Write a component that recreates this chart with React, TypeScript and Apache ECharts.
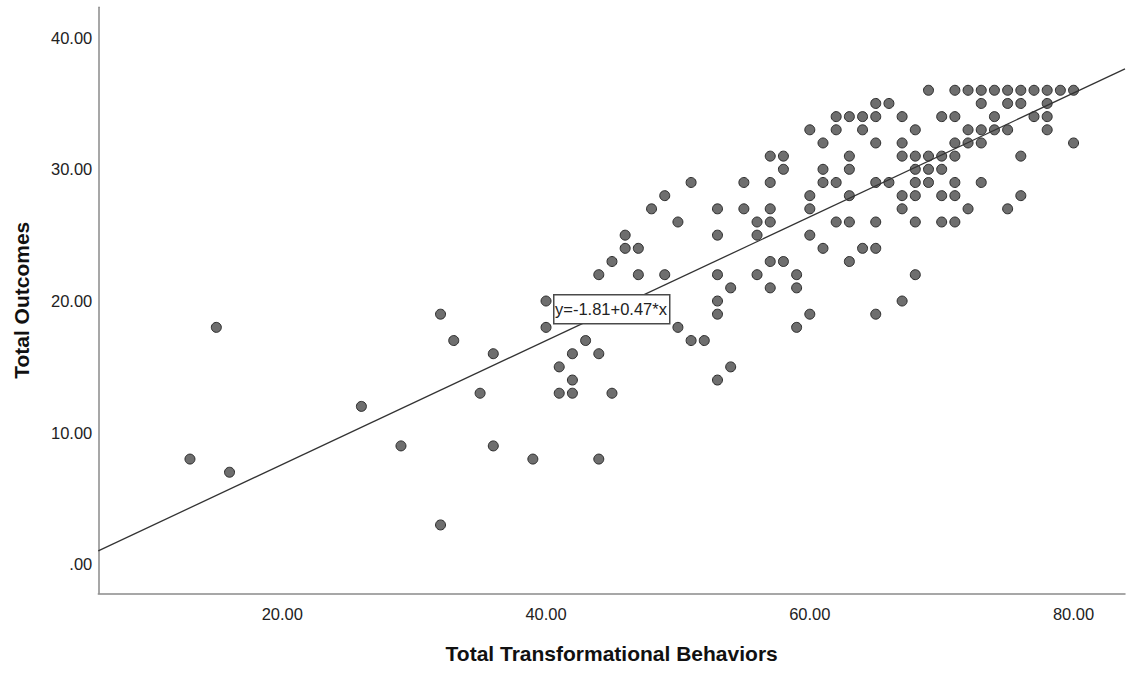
import React, { useEffect, useRef } from "react";
import * as echarts from "echarts";

// Total Outcomes levels (y) and the Total Transformational Behaviors scores (x) observed at each level
const outcomeLevels: number[] = [36, 35, 34, 33, 32, 31, 30, 29, 28, 27, 26, 25, 24, 23, 22, 21, 20, 19, 18, 17, 16, 15, 14, 13, 12, 9, 8, 7, 3];
const behaviorsAt36 = [69, 71, 72, 73, 74, 75, 76, 77, 78, 79, 80];
const behaviorsAt35 = [65, 66, 73, 75, 76, 78];
const behaviorsAt34 = [62, 63, 64, 65, 67, 70, 71, 74, 77, 78];
const behaviorsAt33 = [60, 62, 64, 68, 72, 73, 74, 75, 78];
const behaviorsAt32 = [61, 65, 67, 71, 72, 73, 80];
const behaviorsAt31 = [57, 58, 63, 67, 68, 69, 70, 71, 76];
const behaviorsAt30 = [58, 61, 63, 68, 69, 70];
const behaviorsAt29 = [51, 55, 57, 61, 62, 65, 66, 68, 69, 71, 73];
const behaviorsAt28 = [49, 60, 63, 67, 68, 70, 71, 76];
const behaviorsAt27 = [48, 53, 55, 57, 60, 67, 72, 75];
const behaviorsAt26 = [50, 56, 57, 62, 63, 65, 68, 70, 71];
const behaviorsAt25 = [46, 53, 56, 60];
const behaviorsAt24 = [46, 47, 61, 64, 65];
const behaviorsAt23 = [45, 57, 58, 63];
const behaviorsAt22 = [44, 47, 49, 53, 56, 59, 68];
const behaviorsAt21 = [54, 57, 59];
const behaviorsAt20 = [40, 53, 67];
const behaviorsAt19 = [32, 53, 60, 65];
const behaviorsAt18 = [15, 40, 50, 59];
const behaviorsAt17 = [33, 43, 51, 52];
const behaviorsAt16 = [36, 42, 44];
const behaviorsAt15 = [41, 54];
const behaviorsAt14 = [42, 53];
const behaviorsAt13 = [35, 41, 42, 45];
const behaviorsAt12 = [26];
const behaviorsAt9 = [29, 36];
const behaviorsAt8 = [13, 39, 44];
const behaviorsAt7 = [16];
const behaviorsAt3 = [32];

const behaviorsByLevel: number[][] = [
  behaviorsAt36, behaviorsAt35, behaviorsAt34, behaviorsAt33, behaviorsAt32, behaviorsAt31,
  behaviorsAt30, behaviorsAt29, behaviorsAt28, behaviorsAt27, behaviorsAt26, behaviorsAt25,
  behaviorsAt24, behaviorsAt23, behaviorsAt22, behaviorsAt21, behaviorsAt20, behaviorsAt19,
  behaviorsAt18, behaviorsAt17, behaviorsAt16, behaviorsAt15, behaviorsAt14, behaviorsAt13,
  behaviorsAt12, behaviorsAt9, behaviorsAt8, behaviorsAt7, behaviorsAt3,
];

// Linear fit shown in the chart
const INTERCEPT = -1.81;
const SLOPE = 0.47;
const fitLabel = "y=-1.81+0.47*x";

// Axis ranges and tick labels
const X_MIN = 6.05;
const X_MAX = 83.9;
const Y_MIN = -2.19;
const Y_MAX = 42.3;
const xTicks = [20, 40, 60, 80];
const yTicks = [0, 10, 20, 30, 40];

const xTitle = "Total Transformational Behaviors";
const yTitle = "Total Outcomes";

const FONT = "'Liberation Sans', Arial, sans-serif";

function fmt(v: number): string {
  const s = v.toFixed(2);
  return s.startsWith("0.") ? s.slice(1) : s;
}

export default function App() {
  const ref = useRef<HTMLDivElement>(null);

  useEffect(() => {
    if (!ref.current) return;
    const chart = echarts.init(ref.current, undefined, { renderer: "svg" });

    const points: number[][] = [];
    outcomeLevels.forEach((y, i) => {
      behaviorsByLevel[i].forEach((x) => points.push([x, y]));
    });

    const fitLine = [
      [X_MIN, INTERCEPT + SLOPE * X_MIN],
      [X_MAX, INTERCEPT + SLOPE * X_MAX],
    ];

    const axisLineStyle = { color: "#8a8a8a", width: 1.5 };

    chart.setOption({
      animation: false,
      backgroundColor: "#ffffff",
      textStyle: { fontFamily: FONT },
      grid: {
        left: 98.3,
        right: 1,
        top: 7.3,
        bottom: 83.7,
        containLabel: false,
        outerBoundsMode: "none",
      },
      xAxis: {
        type: "value",
        min: X_MIN,
        max: X_MAX,
        name: xTitle,
        nameLocation: "middle",
        nameGap: 50,
        nameTextStyle: { fontFamily: FONT, fontSize: 21, fontWeight: "bold", color: "#111" },
        axisLine: { show: true, onZero: false, lineStyle: axisLineStyle },
        axisTick: { show: false },
        splitLine: { show: false },
        axisLabel: {
          customValues: xTicks,
          formatter: (v: number) => fmt(v),
          fontFamily: FONT,
          fontSize: 16.5,
          color: "#222",
          margin: 12,
          showMinLabel: true,
          showMaxLabel: true,
        },
      },
      yAxis: {
        type: "value",
        min: Y_MIN,
        max: Y_MAX,
        name: yTitle,
        nameLocation: "middle",
        nameGap: 66,
        nameRotate: 90,
        nameTextStyle: { fontFamily: FONT, fontSize: 21, fontWeight: "bold", color: "#111" },
        axisLine: { show: true, onZero: false, lineStyle: axisLineStyle },
        axisTick: { show: false },
        splitLine: { show: false },
        axisLabel: {
          customValues: yTicks,
          formatter: (v: number) => fmt(v),
          fontFamily: FONT,
          fontSize: 16.5,
          color: "#222",
          margin: 6,
        },
      },
      series: [
        {
          type: "scatter",
          data: points,
          symbol: "circle",
          symbolSize: 10,
          itemStyle: { color: "#6e6e6e", borderColor: "#2b2b2b", borderWidth: 1, opacity: 1 },
          z: 2,
          silent: true,
        },
        {
          type: "line",
          data: fitLine,
          symbol: "none",
          lineStyle: { color: "#333333", width: 1.3 },
          z: 3,
          silent: true,
        },
      ],
      graphic: [
        {
          type: "rect",
          left: 553,
          top: 294,
          z: 100,
          shape: { x: 0, y: 0, width: 116, height: 29 },
          style: { fill: "#ffffff", stroke: "#4a4a4a", lineWidth: 1.5 },
        },
        {
          type: "text",
          x: 611,
          y: 309,
          z: 101,
          style: {
            text: fitLabel,
            fontFamily: FONT,
            fontSize: 16.5,
            fill: "#222",
            align: "center",
            verticalAlign: "middle",
          },
        },
      ],
    });

    return () => chart.dispose();
  }, []);

  return (
    <div
      ref={ref}
      style={{ position: "fixed", left: 0, top: 0, width: 1126, height: 677, background: "#fff" }}
    />
  );
}
